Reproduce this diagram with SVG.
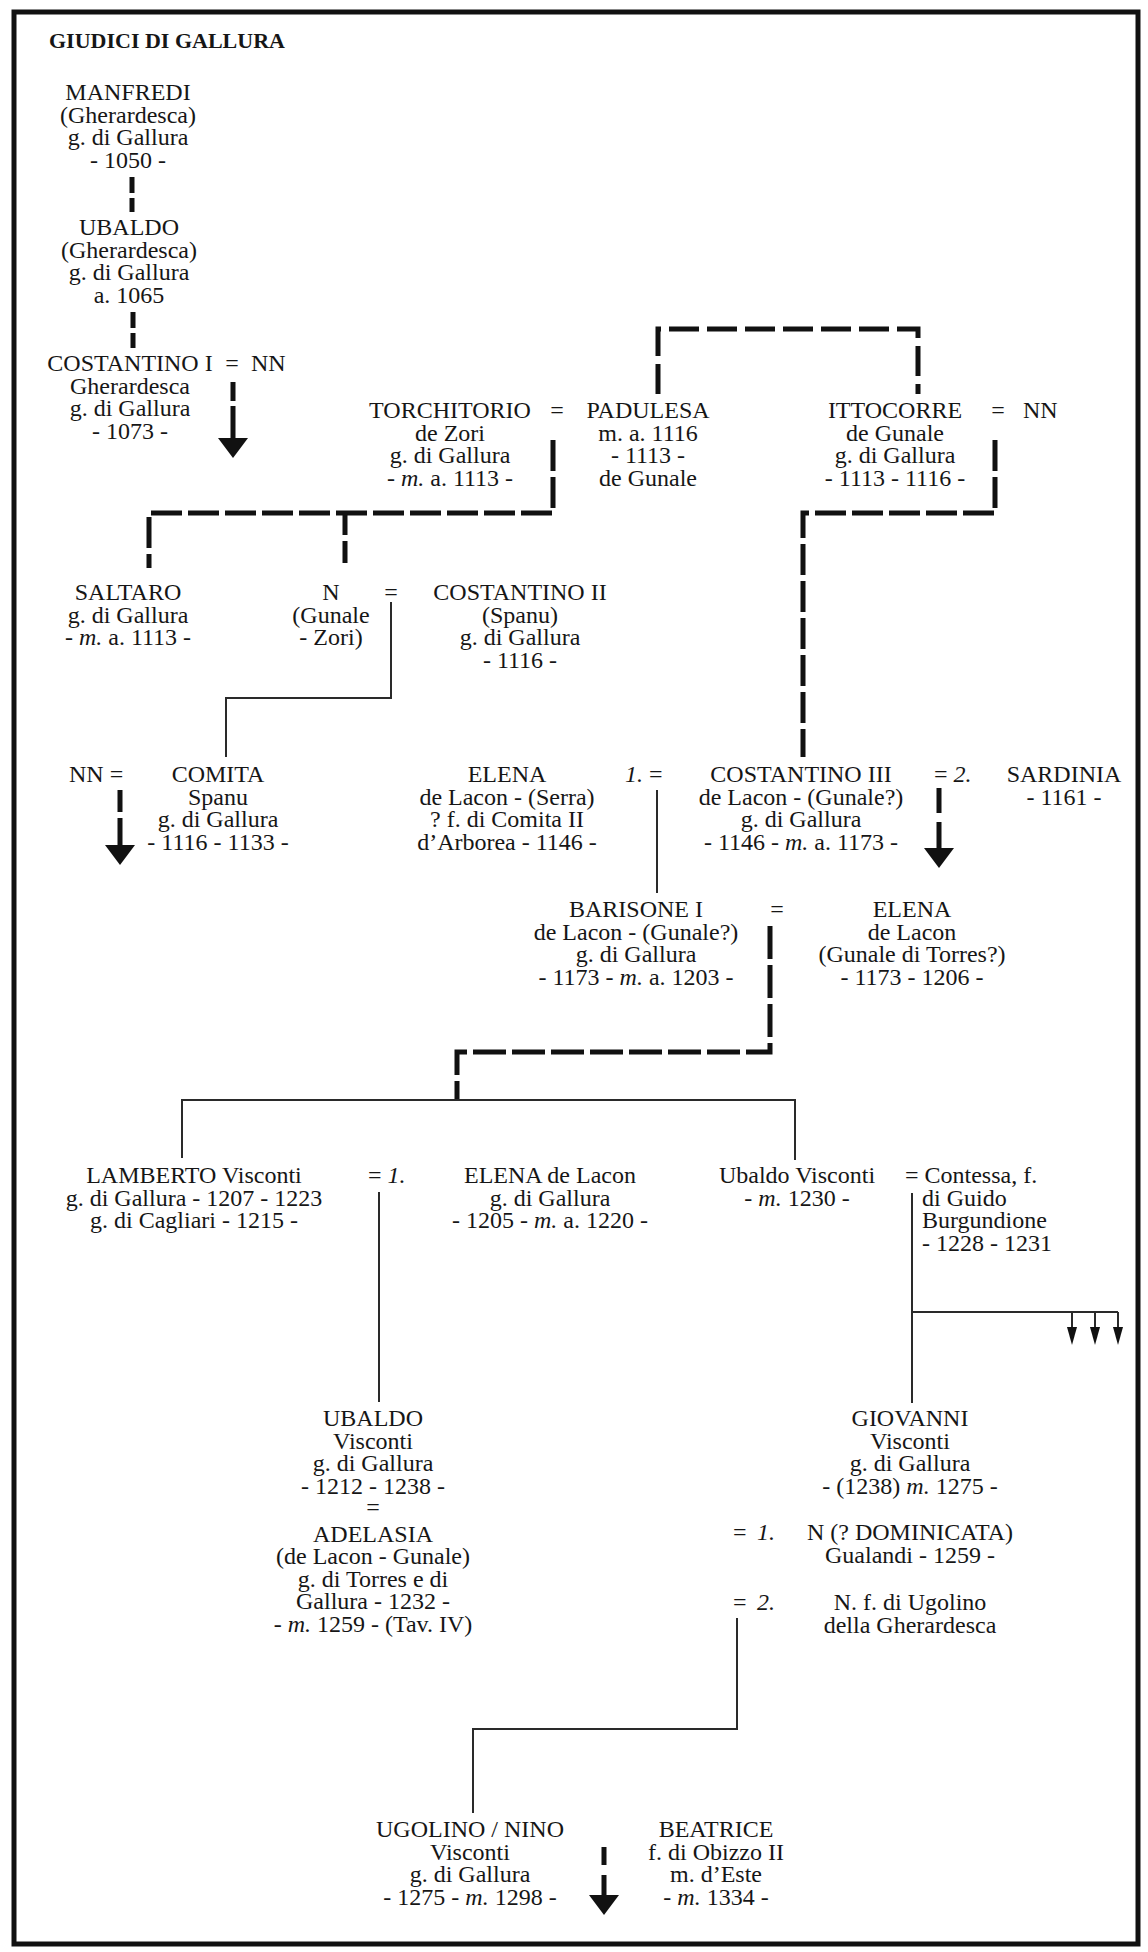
<svg xmlns="http://www.w3.org/2000/svg" width="1148" height="1952" viewBox="0 0 1148 1952">
<style>
text{font-family:"Liberation Serif","Times New Roman",serif;font-size:24px;fill:#161616}
.c{text-anchor:middle}
.t{font-weight:bold;font-size:22px}
.i{font-style:italic}
.thick{fill:none;stroke:#111;stroke-width:5;stroke-linejoin:miter}
.thin{fill:none;stroke:#2a2a2a;stroke-width:2}
</style>
<defs>
<marker id="big" viewBox="0 -15 20 30" refX="0" refY="0" markerWidth="20" markerHeight="30" markerUnits="userSpaceOnUse" orient="auto"><path d="M0,-15 L20,0 L0,15 Z" fill="#111"/></marker>
<marker id="small" viewBox="0 -5 18 10" refX="0" refY="0" markerWidth="18" markerHeight="10" markerUnits="userSpaceOnUse" orient="auto"><path d="M0,-5 L18,0 L0,5 Z" fill="#111"/></marker>
</defs>
<rect x="14" y="12" width="1124" height="1932" fill="#fff" stroke="#111" stroke-width="5"/>
<text class="t" x="49" y="48">GIUDICI DI GALLURA</text>

<g id="connectors">
<path class="thick" d="M132 177V212" stroke-dasharray="16 5"/>
<path class="thick" d="M133 312V348" stroke-dasharray="16 5"/>
<path class="thick" d="M233 382V438" stroke-dasharray="19 5 32" marker-end="url(#big)"/>
<path class="thick" d="M658 394V329H918V394" stroke-dasharray="30 8"/>
<path class="thick" d="M553 440V513H149V568" stroke-dasharray="31 6"/>
<path class="thick" d="M345 513V568" stroke-dasharray="22 6"/>
<path class="thick" d="M995 440V513H803V757" stroke-dasharray="31 6"/>
<path class="thin" d="M391 602V698H226V757"/>
<path class="thick" d="M120 790V845" stroke-dasharray="22 6 27" marker-end="url(#big)"/>
<path class="thick" d="M939 788V848" stroke-dasharray="25 9 26" marker-end="url(#big)"/>
<path class="thin" d="M657 790V893"/>
<path class="thick" d="M770 926V1052H457V1100" stroke-dasharray="33 6"/>
<path class="thin" d="M182 1158V1100H795V1160"/>
<path class="thin" d="M379 1192V1402"/>
<path class="thin" d="M912 1193V1403"/>
<path class="thin" d="M912 1312H1118"/>
<path class="thin" d="M1072 1312V1327" marker-end="url(#small)"/>
<path class="thin" d="M1095 1312V1327" marker-end="url(#small)"/>
<path class="thin" d="M1118 1312V1327" marker-end="url(#small)"/>
<path class="thin" d="M737 1618V1729H473V1813"/>
<path class="thick" d="M604 1847V1895" stroke-dasharray="18 10 20" marker-end="url(#big)"/>
</g>

<g id="manfredi"><text class="c" x="128" y="100">MANFREDI<tspan x="128" dy="22.5">(Gherardesca)</tspan><tspan x="128" dy="22.5">g. di Gallura</tspan><tspan x="128" dy="22.5">- 1050 -</tspan></text></g>
<g id="ubaldo1"><text class="c" x="129" y="235">UBALDO<tspan x="129" dy="22.5">(Gherardesca)</tspan><tspan x="129" dy="22.5">g. di Gallura</tspan><tspan x="129" dy="22.5">a. 1065</tspan></text></g>
<g id="costantino1"><text class="c" x="130" y="371">COSTANTINO I<tspan x="130" dy="22.5">Gherardesca</tspan><tspan x="130" dy="22.5">g. di Gallura</tspan><tspan x="130" dy="22.5">- 1073 -</tspan></text>
<text class="c" x="232" y="371">=</text><text x="251" y="371">NN</text></g>

<g id="torchitorio"><text class="c" x="450" y="418">TORCHITORIO<tspan x="450" dy="22.5">de Zori</tspan><tspan x="450" dy="22.5">g. di Gallura</tspan><tspan x="450" dy="22.5">- <tspan class="i">m.</tspan> a. 1113 -</tspan></text>
<text class="c" x="557" y="418">=</text></g>
<g id="padulesa"><text class="c" x="648" y="418">PADULESA<tspan x="648" dy="22.5">m. a. 1116</tspan><tspan x="648" dy="22.5">- 1113 -</tspan><tspan x="648" dy="22.5">de Gunale</tspan></text></g>
<g id="ittocorre"><text class="c" x="895" y="418">ITTOCORRE<tspan x="895" dy="22.5">de Gunale</tspan><tspan x="895" dy="22.5">g. di Gallura</tspan><tspan x="895" dy="22.5">- 1113 - 1116 -</tspan></text>
<text class="c" x="998" y="418">=</text><text x="1023" y="418">NN</text></g>

<g id="saltaro"><text class="c" x="128" y="600">SALTARO<tspan x="128" dy="22.5">g. di Gallura</tspan><tspan x="128" dy="22.5">- <tspan class="i">m.</tspan> a. 1113 -</tspan></text></g>
<g id="n-gunale"><text class="c" x="331" y="600">N<tspan x="331" dy="22.5">(Gunale</tspan><tspan x="331" dy="22.5">- Zori)</tspan></text>
<text class="c" x="391" y="600">=</text></g>
<g id="costantino2"><text class="c" x="520" y="600">COSTANTINO II<tspan x="520" dy="22.5">(Spanu)</tspan><tspan x="520" dy="22.5">g. di Gallura</tspan><tspan x="520" dy="22.5">- 1116 -</tspan></text></g>

<g id="nn-comita"><text x="69" y="782">NN =</text></g>
<g id="comita"><text class="c" x="218" y="782">COMITA<tspan x="218" dy="22.5">Spanu</tspan><tspan x="218" dy="22.5">g. di Gallura</tspan><tspan x="218" dy="22.5">- 1116 - 1133 -</tspan></text></g>
<g id="elena1"><text class="c" x="507" y="782">ELENA<tspan x="507" dy="22.5">de Lacon - (Serra)</tspan><tspan x="507" dy="22.5">? f. di Comita II</tspan><tspan x="507" dy="22.5">d’Arborea - 1146 -</tspan></text>
<text x="625" y="782"><tspan class="i">1.</tspan> =</text></g>
<g id="costantino3"><text class="c" x="801" y="782">COSTANTINO III<tspan x="801" dy="22.5">de Lacon - (Gunale?)</tspan><tspan x="801" dy="22.5">g. di Gallura</tspan><tspan x="801" dy="22.5">- 1146 - <tspan class="i">m.</tspan> a. 1173 -</tspan></text>
<text x="934" y="782">= <tspan class="i">2.</tspan></text></g>
<g id="sardinia"><text class="c" x="1064" y="782">SARDINIA<tspan x="1064" dy="22.5">- 1161 -</tspan></text></g>

<g id="barisone"><text class="c" x="636" y="917">BARISONE I<tspan x="636" dy="22.5">de Lacon - (Gunale?)</tspan><tspan x="636" dy="22.5">g. di Gallura</tspan><tspan x="636" dy="22.5">- 1173 - <tspan class="i">m.</tspan> a. 1203 -</tspan></text>
<text class="c" x="777" y="917">=</text></g>
<g id="elena2"><text class="c" x="912" y="917">ELENA<tspan x="912" dy="22.5">de Lacon</tspan><tspan x="912" dy="22.5">(Gunale di Torres?)</tspan><tspan x="912" dy="22.5">- 1173 - 1206 -</tspan></text></g>

<g id="lamberto"><text class="c" x="194" y="1183">LAMBERTO Visconti<tspan x="194" dy="22.5">g. di Gallura - 1207 - 1223</tspan><tspan x="194" dy="22.5">g. di Cagliari - 1215 -</tspan></text>
<text x="368" y="1183">= <tspan class="i">1.</tspan></text></g>
<g id="elena3"><text class="c" x="550" y="1183">ELENA de Lacon<tspan x="550" dy="22.5">g. di Gallura</tspan><tspan x="550" dy="22.5">- 1205 - <tspan class="i">m.</tspan> a. 1220 -</tspan></text></g>
<g id="ubaldo-visconti"><text class="c" x="797" y="1183">Ubaldo Visconti<tspan x="797" dy="22.5">- <tspan class="i">m.</tspan> 1230 -</tspan></text></g>
<g id="contessa"><text x="905" y="1183">= Contessa, f.<tspan x="922" dy="22.5">di Guido</tspan><tspan x="922" dy="22.5">Burgundione</tspan><tspan x="922" dy="22.5">- 1228 - 1231</tspan></text></g>

<g id="ubaldo2"><text class="c" x="373" y="1426">UBALDO<tspan x="373" dy="22.5">Visconti</tspan><tspan x="373" dy="22.5">g. di Gallura</tspan><tspan x="373" dy="22.5">- 1212 - 1238 -</tspan><tspan x="373" dy="21">=</tspan><tspan x="373" dy="27">ADELASIA</tspan><tspan x="373" dy="22.5">(de Lacon - Gunale)</tspan><tspan x="373" dy="22.5">g. di Torres e di</tspan><tspan x="373" dy="22.5">Gallura - 1232 -</tspan><tspan x="373" dy="22.5">- <tspan class="i">m.</tspan> 1259 - (Tav. IV)</tspan></text></g>
<g id="giovanni"><text class="c" x="910" y="1426">GIOVANNI<tspan x="910" dy="22.5">Visconti</tspan><tspan x="910" dy="22.5">g. di Gallura</tspan><tspan x="910" dy="22.5">- (1238) <tspan class="i">m.</tspan> 1275 -</tspan></text></g>
<g id="n-dominicata"><text x="733" y="1540">=</text><text class="i" x="757" y="1540">1.</text>
<text class="c" x="910" y="1540">N (? DOMINICATA)<tspan x="910" dy="22.5">Gualandi - 1259 -</tspan></text></g>
<g id="n-ugolino"><text x="733" y="1610">=</text><text class="i" x="757" y="1610">2.</text>
<text class="c" x="910" y="1610">N. f. di Ugolino<tspan x="910" dy="22.5">della Gherardesca</tspan></text></g>

<g id="ugolino"><text class="c" x="470" y="1837">UGOLINO / NINO<tspan x="470" dy="22.5">Visconti</tspan><tspan x="470" dy="22.5">g. di Gallura</tspan><tspan x="470" dy="22.5">- 1275 - <tspan class="i">m.</tspan> 1298 -</tspan></text></g>
<g id="beatrice"><text class="c" x="716" y="1837">BEATRICE<tspan x="716" dy="22.5">f. di Obizzo II</tspan><tspan x="716" dy="22.5">m. d’Este</tspan><tspan x="716" dy="22.5">- <tspan class="i">m.</tspan> 1334 -</tspan></text></g>
</svg>
